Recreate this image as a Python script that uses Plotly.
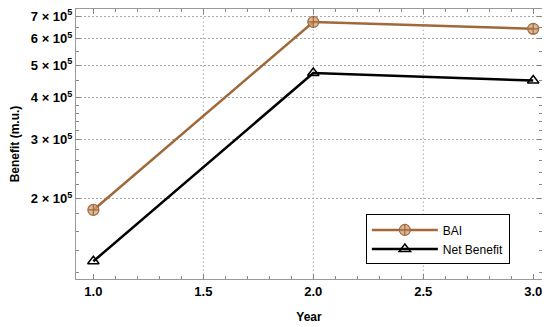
import plotly.graph_objects as go

years = [1, 2, 3]
bai = [185000, 673000, 642000]
net_benefit = [130000, 474000, 450000]

y_tickvals = [200000, 300000, 400000, 500000, 600000, 700000]
y_ticktext = ["2 × 10<sup>5</sup>", "3 × 10<sup>5</sup>", "4 × 10<sup>5</sup>",
              "5 × 10<sup>5</sup>", "6 × 10<sup>5</sup>", "7 × 10<sup>5</sup>"]
y_minor = [120000, 140000, 160000, 180000, 220000, 240000, 260000, 280000,
           320000, 340000, 360000, 380000, 450000, 550000, 650000]
x_tickvals = [1.0, 1.5, 2.0, 2.5, 3.0]
x_ticktext = ["1.0", "1.5", "2.0", "2.5", "3.0"]
x_grid = [1.5, 2.0, 2.5]

BROWN = "#a0693a"
FONT = "Liberation Sans, Arial, sans-serif"
GRID = "#a8a8a8"
GRID_DASH = "1.5px,2.5px"

fig = go.Figure()
fig.add_trace(go.Scatter(
    x=years, y=bai, name="BAI", mode="lines+markers",
    line=dict(color=BROWN, width=2.5),
    marker=dict(symbol="circle-cross", size=11, color="rgba(205,160,120,0.75)",
                line=dict(color=BROWN, width=1.2)),
))
fig.add_trace(go.Scatter(
    x=years, y=net_benefit, name="Net Benefit", mode="lines+markers",
    line=dict(color="black", width=2.5),
    marker=dict(symbol="triangle-up-open", size=10, color="black",
                line=dict(color="black", width=1.5)),
))

for gx in x_grid:
    fig.add_shape(type="line", xref="x", yref="paper", x0=gx, x1=gx, y0=0, y1=1,
                  line=dict(color=GRID, width=1, dash=GRID_DASH), layer="below")

# page body has an 8px default margin, so the figure is sized to fit inside it
fig.update_layout(
    width=542, height=319,
    margin=dict(l=68, r=8, t=1, b=48, autoexpand=False),
    paper_bgcolor="white", plot_bgcolor="white",
    showlegend=True,
    legend=dict(x=0.622, y=0.239, xanchor="left", yanchor="top",
                bordercolor="black", borderwidth=1, bgcolor="white",
                font=dict(family=FONT, size=12, color="black"),
                itemwidth=66, entrywidth=120, tracegroupgap=0),
    xaxis=dict(
        range=[0.921, 3.04], tickmode="array", tickvals=x_tickvals, ticktext=x_ticktext,
        ticks="inside", ticklen=5, tickcolor="#888888", showgrid=False,
        showline=True, linecolor="#999999", linewidth=1, mirror="ticks",
        tickfont=dict(family=FONT, size=13, color="black", weight="bold"),
        minor=dict(dtick=0.1, ticks="inside", ticklen=3, tickcolor="#888888"),
        title=dict(text="<b>Year</b>", font=dict(family=FONT, size=12, color="black"), standoff=15),
        zeroline=False, automargin=False,
    ),
    yaxis=dict(
        type="log", range=[5.0611, 5.8667], tickmode="array", tickvals=y_tickvals, ticktext=y_ticktext,
        ticks="inside", ticklen=5, tickcolor="#888888", ticklabeloverflow="allow",
        showgrid=True, gridcolor=GRID, griddash=GRID_DASH, gridwidth=1,
        showline=True, linecolor="#999999", linewidth=1, mirror="ticks",
        tickfont=dict(family=FONT, size=13, color="black", weight="bold"),
        minor=dict(tickvals=y_minor, ticks="inside", ticklen=3, tickcolor="#888888", showgrid=False),
        title=dict(text="<b>Benefit (m.u.)</b>", font=dict(family=FONT, size=12, color="black"), standoff=10),
        zeroline=False, automargin=False,
    ),
)

fig.write_html("out.html")
